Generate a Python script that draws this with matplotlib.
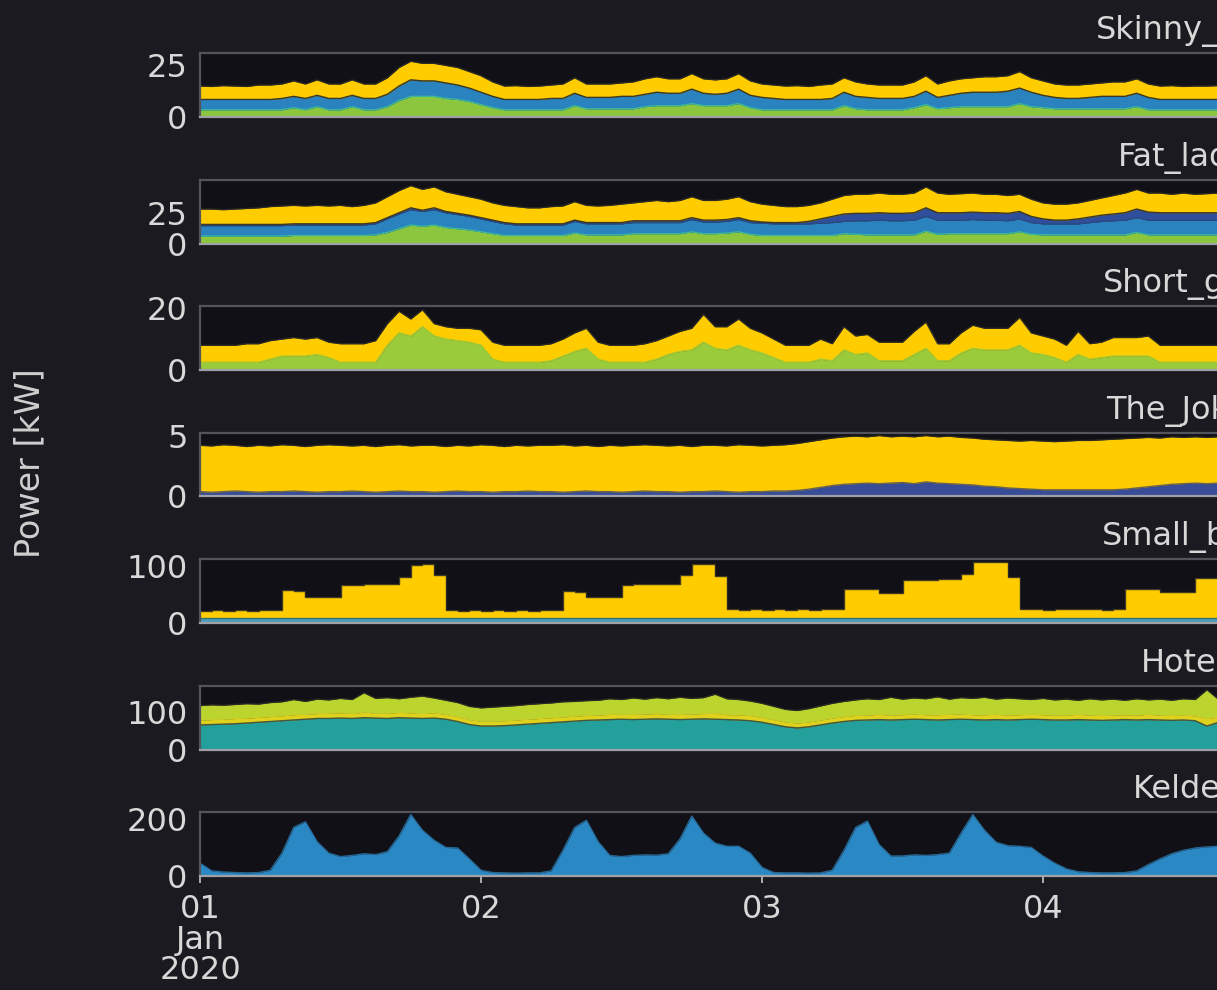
import matplotlib
matplotlib.use("Agg")
import matplotlib.pyplot as plt
import matplotlib.dates as mdates
from matplotlib.ticker import FuncFormatter
import numpy as np
import pandas as pd

plt.rcParams['font.family'] = ['DejaVu Sans']

# ---------------- data (hourly, from 2020-01-01 00:00) ----------------
times = pd.date_range("2020-01-01 00:00", periods=90, freq="h")

# Skinny_flat : cumulative boundaries (green, blue, yellow)
skinny_green_top = [3.5, 3.5, 3.5, 3.5, 3.5, 3.5, 3.5, 3.5, 4.5, 3.5,
                    5, 3.5, 3.5, 5, 3.5, 3.5, 5, 8, 10, 10,
                    10, 9, 8.5, 7.5, 6, 4.5, 3.5, 3.5, 3.5, 3.5,
                    3.5, 3.5, 5.5, 4, 4, 4, 4, 4, 5, 5.5,
                    5.5, 5.5, 6.5, 5.5, 5.5, 5.5, 6.5, 4.5, 3.5, 3.5,
                    3.5, 3.5, 3.5, 3.5, 3.5, 5.5, 4, 3.5, 3.5, 3.5,
                    3.5, 4.5, 6, 4, 4.5, 5, 5, 5, 5, 5,
                    6.5, 5, 4.5, 4, 4, 4, 4, 4, 4, 4,
                    5, 3.5, 3.5, 3.5, 3.5, 3.5, 3.5, 3.5, 3.5, 3.5]
skinny_blue_top = [8.5, 8.5, 8.5, 8.5, 8.5, 8.5, 8.5, 9, 10, 9,
                   10.5, 9, 9, 10.5, 9, 9, 11, 15, 18, 17.5,
                   17.5, 16.5, 15.5, 14, 12, 10, 8.5, 8.5, 8.5, 8.5,
                   9, 9, 11.5, 9.5, 9.5, 9.5, 10, 10, 11, 12,
                   11.5, 11.5, 13.5, 11.5, 11, 11.5, 13.5, 10.5, 9.5, 9,
                   8.5, 8.5, 8.5, 8.5, 9, 12, 10, 9.5, 9, 9,
                   9, 10, 12.5, 9.5, 10.5, 11.5, 12, 12, 12, 12.5,
                   14, 12, 10.5, 9.5, 9, 9, 9.5, 10, 10, 10,
                   11.5, 9.5, 8.5, 8.5, 8.5, 8.5, 8.5, 8.5, 8.5, 8.5]
skinny_total = [15, 14.8, 15.2, 15, 14.8, 15.5, 15.5, 16, 17.5, 16,
                18, 16, 16, 18, 16, 16, 19, 24, 27, 26,
                26, 25, 24, 22, 20, 17, 15, 15.2, 14.8, 15,
                15.5, 16, 19, 16, 16, 16, 16.5, 17, 18.5, 19.5,
                18.5, 18.5, 21, 18.5, 18, 18.5, 21, 17.5, 16, 15.5,
                15, 15.2, 14.8, 15.5, 16, 19, 17, 16, 15.5, 15.5,
                15.5, 17, 20, 16, 17.5, 18.5, 19, 19.5, 19.5, 20,
                22, 19, 17.5, 16, 15.5, 15.5, 16, 16.5, 17, 17,
                18.5, 16, 15, 15.2, 14.8, 15, 15, 15.2, 15, 15]

# Fat_lady : green, blue, dark blue, yellow
fat_green_top = [6, 6, 6, 6, 6, 6, 6, 6, 6.5, 6.5,
                 6.5, 6.5, 6.5, 6.5, 6.5, 7, 9, 12, 15, 14,
                 15, 13, 12, 11, 9.5, 8, 6.5, 6.5, 6.5, 6.5,
                 6.5, 6.5, 8.5, 7, 7, 7, 7, 8, 8, 8,
                 8, 8, 9.5, 8, 8, 8.5, 9.5, 7.5, 6.5, 6.5,
                 6.5, 6.5, 6.5, 6.5, 6.5, 8, 7.5, 7, 7, 7,
                 7, 7, 10, 7.5, 8, 8, 8, 8, 8, 8,
                 9.5, 7.5, 7, 7, 7, 7, 7, 7, 7, 7,
                 9, 7, 7, 7, 7, 7, 7, 7, 7, 7]
fat_blue_top = [14.5, 14.5, 14.5, 14.5, 14.5, 14.5, 14.5, 14.5, 15, 15,
                15, 15, 15, 15, 15, 16, 20, 24, 27.5, 26,
                27.5, 25, 23.5, 22, 20, 18, 16, 15, 15, 15,
                15, 15, 18, 16, 16, 16, 16, 17, 17, 17,
                17, 17, 19.5, 17.5, 17.5, 18, 19.5, 17, 16.5, 16,
                16, 16, 16, 16.5, 17, 18, 18.5, 18.5, 19, 18.5,
                18.5, 19, 22, 19, 19, 19, 19.5, 19, 19, 18.5,
                20, 17, 16, 16, 16, 16, 17, 18, 18.5, 19,
                21, 19, 19, 19, 19, 19, 19, 19, 19, 19]
fat_dblue_top = [15.5, 15.5, 15.5, 15.5, 15.5, 15.5, 15.5, 15.5, 16, 16,
                 16, 16, 16, 16, 16, 17, 21, 25, 29, 27,
                 29, 26, 24.5, 23, 21, 19, 17, 16, 16, 16,
                 16, 16, 19, 17, 17, 17, 17, 18.5, 18.5, 18.5,
                 18.5, 18.5, 21, 19, 19, 19.5, 21, 18.5, 17.5, 17,
                 17, 17, 18, 20, 22, 24, 24.5, 24.5, 25, 24.5,
                 24.5, 25, 29, 25, 25, 25, 25.5, 25, 25, 24.5,
                 26, 22, 20, 19, 19, 20, 21.5, 23, 24, 25,
                 28, 25.5, 25, 25, 25, 25, 25, 25, 25, 25]
fat_total = [28, 28, 27.5, 28, 28.5, 29, 30, 30.5, 31, 30.5,
             31, 30.5, 31, 30, 31, 33, 38, 43, 47, 44,
             46, 42, 40, 38, 36, 33, 31, 30, 29, 29,
             30, 30.5, 34, 31, 30.5, 31, 32, 33, 34, 35,
             34, 35, 38, 35, 35, 36, 38, 34, 32, 31,
             30, 30, 31, 33, 36, 39, 40, 40, 41, 40,
             40, 41, 46, 41, 40, 40.5, 41, 40, 40, 39,
             40, 36, 33, 32, 32, 33, 35, 37, 39, 41,
             44, 41, 41, 40, 41, 40, 40.5, 41, 41, 40.5]

# Short_guy : green, yellow
short_green_top = [2.5, 2.5, 2.5, 2.5, 2.5, 2.5, 3.5, 4.5, 4.5, 4.5,
                   5, 4, 2.5, 2.5, 2.5, 2.5, 8, 12, 11, 14,
                   11, 10, 9.5, 9, 8, 3.5, 2.5, 2.5, 2.5, 2.5,
                   3, 4.5, 6, 7, 3.5, 2.5, 2.5, 2.5, 2.5, 3.5,
                   5, 6, 6.5, 9, 7, 6.5, 8, 6.5, 5.5, 4,
                   2.5, 2.5, 2.5, 3.5, 3, 6.5, 5, 5.5, 3, 3,
                   3, 5, 7, 3, 3, 5.5, 7, 6.5, 6.5, 6.5,
                   8, 5.5, 5, 4, 2.5, 5, 3.5, 4, 4.5, 4.5,
                   4.5, 4.5, 2.5, 2.5, 2.5, 2.5, 2.5, 2.5, 2.5, 2.5]
short_total = [8, 8, 8, 8, 8.5, 8.5, 9.5, 10, 10.5, 10,
               10.5, 9, 8.5, 8.5, 8.5, 9.5, 15, 19, 16.5, 19.5,
               15, 14, 13.5, 13.5, 13, 9, 8, 8, 8, 8,
               8.5, 10, 12, 13.5, 9, 8, 8, 8, 8.5, 9.5,
               11, 12.5, 13.5, 18, 14, 14, 16.5, 13.5, 12, 10,
               8, 8, 8, 10, 8.5, 14, 11, 11.5, 9, 9,
               9, 12.5, 15.5, 8.5, 8.5, 12, 14.5, 13.5, 13.5, 13.5,
               17, 12, 11, 10, 8, 12.5, 8.5, 9, 10.5, 10.5,
               10.5, 11, 8, 8, 8, 8, 8, 8, 8, 8]

# The_Joker : dark blue, yellow
joker_blue_top = [0.4, 0.35, 0.4, 0.45, 0.4, 0.35, 0.4, 0.4, 0.45, 0.4,
                  0.35, 0.4, 0.4, 0.45, 0.4, 0.35, 0.4, 0.45, 0.4, 0.4,
                  0.35, 0.4, 0.45, 0.4, 0.4, 0.35, 0.4, 0.4, 0.45, 0.4,
                  0.4, 0.35, 0.4, 0.45, 0.4, 0.4, 0.35, 0.4, 0.45, 0.4,
                  0.4, 0.35, 0.4, 0.4, 0.45, 0.4, 0.35, 0.4, 0.4, 0.45,
                  0.45, 0.5, 0.6, 0.75, 0.9, 1.0, 1.05, 1.1, 1.05, 1.1,
                  1.15, 1.05, 1.2, 1.1, 1.05, 1.0, 0.95, 0.85, 0.8, 0.7,
                  0.65, 0.6, 0.55, 0.55, 0.55, 0.55, 0.55, 0.55, 0.55, 0.6,
                  0.7, 0.8, 0.9, 1.0, 1.05, 1.1, 1.05, 1.1, 1.05, 1.1]
joker_total = [4.2, 4.15, 4.25, 4.2, 4.1, 4.2, 4.15, 4.25, 4.2, 4.1,
               4.2, 4.25, 4.2, 4.15, 4.2, 4.1, 4.2, 4.25, 4.15, 4.2,
               4.2, 4.1, 4.2, 4.15, 4.25, 4.2, 4.1, 4.2, 4.15, 4.2,
               4.2, 4.25, 4.15, 4.2, 4.1, 4.2, 4.15, 4.2, 4.25, 4.2,
               4.15, 4.2, 4.1, 4.2, 4.2, 4.15, 4.25, 4.2, 4.15, 4.2,
               4.25, 4.35, 4.5, 4.65, 4.8, 4.9, 4.95, 4.9, 5.0, 4.9,
               4.95, 4.9, 5.0, 4.9, 4.95, 4.85, 4.8, 4.7, 4.65, 4.6,
               4.55, 4.6, 4.55, 4.5, 4.55, 4.6, 4.6, 4.65, 4.7, 4.75,
               4.8, 4.85, 4.8, 4.9, 4.85, 4.9, 4.85, 4.9, 4.85, 4.9]

# Small_box : blue, yellow (step-like)
small_blue_top = [9, 9.5, 9, 8.5, 9, 9.5, 9, 9, 9.5, 9,
                  9, 8.5, 9, 9.5, 9, 9, 8.5, 9, 9.5, 9,
                  9, 9, 8.5, 9, 9.5, 9, 9, 8.5, 9, 9,
                  9.5, 9, 9, 8.5, 9, 9, 9.5, 9, 9, 8.5,
                  9, 9.5, 9, 9, 8.5, 9, 9, 9.5, 9, 9,
                  8.5, 9, 9, 9.5, 9, 9, 8.5, 9, 9, 9.5,
                  9, 9, 8.5, 9, 9.5, 9, 9, 8.5, 9, 9,
                  9.5, 9, 9, 8.5, 9, 9, 9.5, 9, 9, 8.5,
                  9, 9.5, 9, 9, 8.5, 9, 9, 9.5, 9, 9]
small_total = [21, 22, 21, 22, 21, 22, 22, 57, 56, 45,
               45, 45, 67, 67, 68, 68, 69, 80, 102, 103,
               84, 22, 21, 22, 21, 22, 21, 22, 21, 22,
               22, 56, 55, 45, 45, 45, 67, 68, 68, 69,
               69, 84, 103, 103, 83, 24, 23, 24, 23, 24,
               23, 24, 23, 24, 24, 60, 60, 60, 52, 52,
               75, 76, 76, 77, 77, 86, 106, 106, 106, 80,
               25, 24, 23, 24, 24, 25, 24, 23, 24, 60,
               60, 60, 55, 55, 55, 78, 78, 78, 78, 78]

# Hotel : teal, yellow, lime
hotel_teal_top = [65, 66, 67, 68, 70, 72, 74, 76, 78, 80,
                  82, 82, 83, 82, 84, 83, 82, 84, 83, 82,
                  83, 80, 74, 66, 62, 62, 63, 65, 67, 69,
                  71, 73, 75, 77, 78, 79, 80, 79, 80, 81,
                  80, 79, 80, 81, 80, 79, 78, 76, 72, 66,
                  60, 57, 60, 65, 70, 74, 77, 78, 79, 78,
                  79, 80, 79, 78, 79, 80, 79, 78, 79, 78,
                  79, 80, 79, 78, 78, 79, 78, 77, 78, 79,
                  78, 79, 78, 77, 78, 76, 62, 72, 78, 79]
hotel_yellow_top = [78, 79, 80, 82, 83, 85, 87, 89, 92, 93,
                    95, 96, 97, 95, 99, 96, 96, 98, 97, 95,
                    97, 93, 87, 79, 75, 75, 76, 78, 80, 82,
                    84, 86, 88, 90, 91, 93, 93, 93, 94, 95,
                    93, 93, 94, 95, 96, 92, 92, 90, 85, 79,
                    73, 70, 73, 78, 83, 87, 90, 91, 93, 91,
                    92, 94, 92, 92, 93, 94, 92, 92, 93, 91,
                    92, 93, 92, 91, 91, 93, 91, 90, 91, 92,
                    91, 93, 91, 90, 91, 89, 82, 86, 91, 92]
hotel_total = [116, 118, 117, 119, 121, 120, 124, 126, 132, 127,
               133, 131, 135, 132, 150, 135, 137, 134, 138, 141,
               136, 130, 124, 114, 110, 112, 114, 116, 119, 121,
               123, 126, 127, 129, 130, 134, 132, 136, 133, 137,
               134, 138, 135, 137, 146, 134, 132, 128, 122, 114,
               106, 103, 108, 115, 122, 127, 131, 134, 132, 138,
               133, 136, 134, 139, 133, 137, 135, 138, 133, 136,
               134, 132, 135, 131, 133, 130, 134, 131, 133, 130,
               134, 131, 133, 130, 134, 132, 158, 132, 134, 131]

# Kelder : single series
kelder = [45, 18, 14, 12, 11, 12, 20, 80, 170, 190,
          120, 80, 68, 72, 78, 75, 85, 140, 215, 160,
          125, 100, 98, 60, 20, 12, 11, 10, 11, 11,
          18, 90, 170, 195, 120, 72, 68, 72, 74, 73,
          78, 130, 210, 150, 115, 104, 104, 80, 30, 12,
          11, 11, 10, 11, 20, 90, 170, 192, 110, 70,
          70, 74, 72, 75, 80, 150, 215, 160, 118, 106,
          104, 100, 70, 45, 25, 15, 12, 11, 11, 12,
          18, 40, 60, 78, 90, 98, 102, 104, 104, 104]

titles = ["Skinny_flat", "Fat_lady", "Short_guy", "The_Joker",
          "Small_box", "Hotel", "Kelder"]
ylims = [31, 52, 20.7, 5.25, 112, 169, 224]
yticks = [[0, 25], [0, 25], [0, 20], [0, 5], [0, 100], [0, 100], [0, 200]]

# ---------------- styling ----------------
BG = "#1a1a20"
AXBG = "#101016"
TXT = "#d8d8d8"
YEL = "#ffcc00"
BLU = "#2a82be"
GRN = "#8cc63f"
DBL = "#2f4f9c"
TEA = "#23a09b"
LIM = "#bcd52e"
SBL = "#4d9dbd"
KBL = "#2a88c4"
EDGE = "#2b2b26"

panels = [
    dict(bounds=[skinny_green_top, skinny_blue_top, skinny_total],
         colors=[GRN, BLU, YEL], edges=["#3fbf9a", EDGE, EDGE]),
    dict(bounds=[fat_green_top, fat_blue_top, fat_dblue_top, fat_total],
         colors=[GRN, BLU, DBL, YEL], edges=["#3fbf9a", "#2a4a80", EDGE, EDGE]),
    dict(bounds=[short_green_top, short_total],
         colors=["#9acb3a", YEL], edges=["#9acb3a", EDGE]),
    dict(bounds=[joker_blue_top, joker_total],
         colors=["#384c98", YEL], edges=["#5a5a5a", EDGE]),
    dict(bounds=[small_blue_top, small_total],
         colors=[SBL, YEL], edges=["#2e6f6a", EDGE], step="post"),
    dict(bounds=[hotel_teal_top, hotel_yellow_top, hotel_total],
         colors=[TEA, "#e0d21c", LIM], edges=["#3a4a40", "#c8cf2a", EDGE]),
    dict(bounds=[kelder], colors=[KBL], edges=["#2a6f9e"]),
]

W, H = 1217, 990
fig = plt.figure(figsize=(W / 100, H / 100), dpi=100, facecolor=BG)
left_px, width_px, hax = 200, 281 * 7, 64
FS = 23

for i, p in enumerate(panels):
    top = 53 + 126.5 * i
    ax = fig.add_axes([left_px / W, 1 - (top + hax) / H, width_px / W, hax / H],
                      facecolor=AXBG)
    lower = np.zeros(len(times))
    step = p.get("step")
    for b, c, ec in zip(p["bounds"], p["colors"], p["edges"]):
        upper = np.asarray(b, dtype=float)
        ax.fill_between(times, lower, upper, color=c, lw=0, step=step)
        if step:
            ax.step(times, upper, where="post", color=ec, lw=1.0, alpha=0.9)
        else:
            ax.plot(times, upper, color=ec, lw=1.0, alpha=0.9)
        lower = upper
    ax.set_xlim(pd.Timestamp("2020-01-01"), pd.Timestamp("2020-01-08"))
    ax.set_ylim(0, ylims[i])
    ax.set_yticks(yticks[i])
    ax.set_yticklabels([str(v) for v in yticks[i]])
    ax.set_title(titles[i], color=TXT, fontsize=FS, pad=10)
    for side in ["top", "left", "right"]:
        ax.spines[side].set_color("#54545c")
        ax.spines[side].set_linewidth(1.6)
    ax.spines["bottom"].set_color("#9ea2a6")
    ax.spines["bottom"].set_linewidth(1.6)
    ax.tick_params(axis="y", length=0, pad=9, labelsize=FS, labelcolor=TXT)
    ax.xaxis.set_major_locator(mdates.DayLocator())
    if i < len(panels) - 1:
        ax.tick_params(axis="x", length=0, labelbottom=False)
    else:
        def fmt(x, pos):
            d = mdates.num2date(x)
            if d.day == 1:
                return d.strftime("%d\n%b\n%Y")
            return d.strftime("%d")
        ax.xaxis.set_major_formatter(FuncFormatter(fmt))
        ax.tick_params(axis="x", length=5, width=1.2, color="#c8c8c8",
                       pad=8, labelsize=FS, labelcolor=TXT)
        for lab in ax.get_xticklabels():
            lab.set_linespacing(0.98)

fig.text(30 / W, 1 - 463 / H, "Power [kW]", rotation=90, ha="center", va="center",
         fontsize=24, color="#cfcfcf")

fig.savefig("out.png", dpi=100, facecolor=BG)
